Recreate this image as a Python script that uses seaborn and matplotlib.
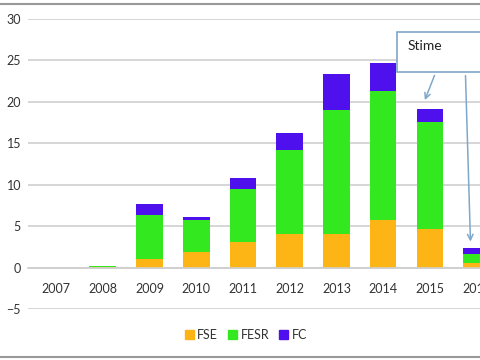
import numpy as np
import pandas as pd
import matplotlib
matplotlib.use("Agg")
import matplotlib.pyplot as plt
from matplotlib.lines import Line2D
from matplotlib.patches import Rectangle, Patch
import seaborn as sns

years = ['2007', '2008', '2009', '2010', '2011', '2012', '2013', '2014', '2015', '2016']
fse = [0.0, 0.1, 1.0, 1.85, 3.1, 4.1, 4.0, 5.8, 4.7, 0.5]
fesr = [0.0, 0.1, 5.4, 3.85, 6.4, 10.1, 15.0, 15.5, 12.9, 1.1]
fc = [0.0, 0.0, 1.3, 0.35, 1.3, 2.0, 4.4, 3.4, 1.5, 0.8]
series = ['FSE', 'FESR', 'FC']
colors = ['#FDB515', '#33E81E', '#4F10EE']

df = pd.DataFrame({'year': years, 'FSE': fse, 'FESR': fesr, 'FC': fc})
df['l2'] = df['FSE'] + df['FESR']
df['l3'] = df['l2'] + df['FC']

sns.set_style("white")
plt.rcParams['font.family'] = ['Lato', 'DejaVu Sans']

fig = plt.figure(figsize=(4.8, 3.6), dpi=100)
ax = fig.add_axes([28 / 480, 1 - 309 / 360, 472 / 480, 290 / 360])

# stacked bars drawn as layered totals
for col, c in zip(['l3', 'l2', 'FSE'], colors[::-1]):
    sns.barplot(data=df, x='year', y=col, color=c, width=0.57, ax=ax,
                saturation=1, order=years, linewidth=0)

ax.set_xlim(-0.6, 9.5)
ax.set_ylim(-5, 30)
ax.set_yticks(range(-5, 31, 5))
ax.grid(axis='y', color='#CFCFCF', linewidth=1.2)
ax.set_axisbelow(True)
for s in ['top', 'right', 'left']:
    ax.spines[s].set_visible(False)
ax.spines['bottom'].set_position(('data', 0))
ax.spines['bottom'].set_color('#CFCFCF')
ax.spines['bottom'].set_linewidth(1.2)
ax.tick_params(axis='both', length=0, labelsize=9, labelcolor='#333333')
ax.tick_params(axis='x', pad=11)
ax.tick_params(axis='y', pad=5)
ax.set_xlabel('')
ax.set_ylabel('')

handles = [Patch(color=c, label=s) for s, c in zip(series, colors)]
fig.legend(handles=handles, loc='center', bbox_to_anchor=(246 / 480, 1 - 335 / 360),
           ncol=3, frameon=False, fontsize=9, handlelength=0.7, handleheight=0.7,
           handletextpad=0.3, columnspacing=0.8, labelcolor='#333333')

# callout "Stime"
ax.add_patch(Rectangle((7.3, 23.6), 3.0, 4.8, facecolor='white', edgecolor='#7FA7C9',
                       linewidth=1.2, clip_on=False, zorder=5))
ax.text(7.52, 26.8, 'Stime', fontsize=10, color='#222222', va='center', zorder=6)
ax.annotate('', xy=(7.87, 19.9), xytext=(8.12, 23.5),
            arrowprops=dict(arrowstyle='->', color='#7FA7C9', lw=1.1), zorder=6)
ax.annotate('', xy=(8.87, 2.8), xytext=(8.76, 23.5),
            arrowprops=dict(arrowstyle='->', color='#7FA7C9', lw=1.1), zorder=6)

# outer chart frame lines
fig.add_artist(Line2D([0, 1], [1 - 4 / 360, 1 - 4 / 360], color='#999999', lw=1.5))
fig.add_artist(Line2D([0, 1], [1 - 357 / 360, 1 - 357 / 360], color='#999999', lw=1.5))

fig.savefig('out.png', dpi=100)
